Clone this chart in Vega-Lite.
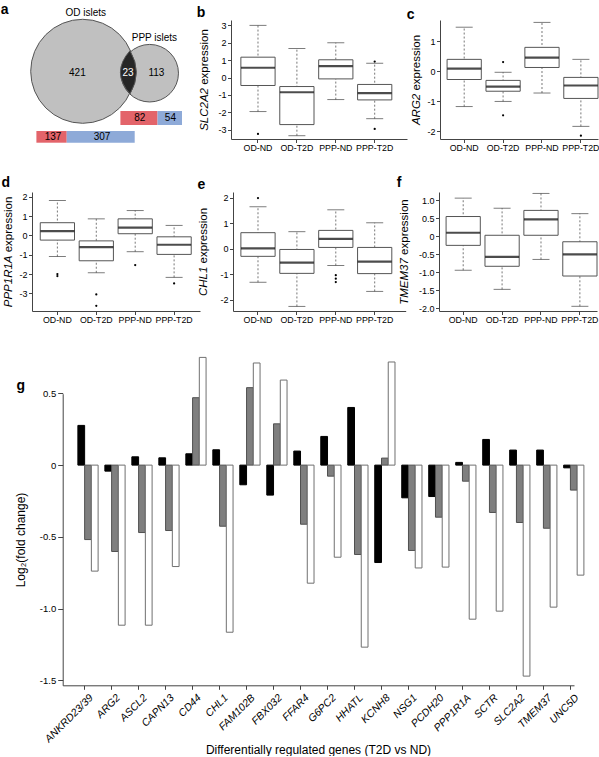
{
  "$schema": "https://vega.github.io/schema/vega-lite/v6.json",
  "background": "white",
  "padding": {"left": 0, "top": 2, "right": 0, "bottom": 0},
  "config": {
    "font": "Liberation Sans",
    "view": {"stroke": null},
    "axis": {"domainColor": "#444444", "tickColor": "#444444", "labelColor": "#000000", "titleColor": "#000000", "grid": false, "labelFont": "Liberation Sans", "titleFont": "Liberation Sans", "titleFontWeight": "normal", "labelFontSize": 9, "titleFontSize": 11.5, "tickSize": 3.5, "domainWidth": 1, "tickWidth": 1, "labelFlush": false, "labelOverlap": false, "domainCap": "butt"},
    "axisX": {"labelAngle": 0, "labelPadding": 0.5, "labelFontSize": 8.8},
    "axisY": {"labelPadding": 1.5, "minExtent": 0, "maxExtent": 0, "labelOverlap": false, "titleAlign": "right", "titleBaseline": "bottom", "titleAngle": 270, "titleFontStyle": "italic"},
    "title": {"anchor": "start", "frame": "group", "fontSize": 14, "fontWeight": "bold", "baseline": "alphabetic", "font": "Liberation Sans", "color": "#000000"}
  },
  "datasets": {
    "sets": [{"set": "OD islets", "total": 444}, {"set": "PPP islets", "total": 136}],
    "venn": [{"region": "OD islets only", "n": 421}, {"region": "Both", "n": 23}, {"region": "PPP islets only", "n": 113}],
    "direction": [
      {"set": "OD islets", "dir": "up", "n": 137}, {"set": "OD islets", "dir": "down", "n": 307},
      {"set": "PPP islets", "dir": "up", "n": 82}, {"set": "PPP islets", "dir": "down", "n": 54}
    ],
    "boxes": [
      {"gene": "SLC2A2", "group": "OD-ND", "lo": -1.96, "q1": -0.46, "med": 0.56, "q3": 1.17, "hi": 3.0},
      {"gene": "SLC2A2", "group": "OD-T2D", "lo": -3.35, "q1": -2.71, "med": -0.85, "q3": -0.52, "hi": 1.67},
      {"gene": "SLC2A2", "group": "PPP-ND", "lo": -1.27, "q1": -0.08, "med": 0.65, "q3": 1.02, "hi": 2.0},
      {"gene": "SLC2A2", "group": "PPP-T2D", "lo": -2.37, "q1": -1.29, "med": -0.9, "q3": -0.4, "hi": 0.82},
      {"gene": "ARG2", "group": "OD-ND", "lo": -1.17, "q1": -0.27, "med": 0.09, "q3": 0.4, "hi": 1.47},
      {"gene": "ARG2", "group": "OD-T2D", "lo": -1.0, "q1": -0.66, "med": -0.51, "q3": -0.3, "hi": -0.03},
      {"gene": "ARG2", "group": "PPP-ND", "lo": -0.72, "q1": 0.13, "med": 0.46, "q3": 0.8, "hi": 1.63},
      {"gene": "ARG2", "group": "PPP-T2D", "lo": -1.83, "q1": -0.9, "med": -0.47, "q3": -0.2, "hi": 0.4},
      {"gene": "PPP1R1A", "group": "OD-ND", "lo": -1.09, "q1": -0.24, "med": 0.22, "q3": 0.66, "hi": 1.81},
      {"gene": "PPP1R1A", "group": "OD-T2D", "lo": -1.93, "q1": -1.31, "med": -0.6, "q3": -0.28, "hi": 0.86},
      {"gene": "PPP1R1A", "group": "PPP-ND", "lo": -0.84, "q1": 0.09, "med": 0.41, "q3": 0.86, "hi": 1.29},
      {"gene": "PPP1R1A", "group": "PPP-T2D", "lo": -2.17, "q1": -0.98, "med": -0.48, "q3": -0.07, "hi": 0.52},
      {"gene": "CHL1", "group": "OD-ND", "lo": -1.32, "q1": -0.3, "med": 0.01, "q3": 0.63, "hi": 1.65},
      {"gene": "CHL1", "group": "OD-T2D", "lo": -2.27, "q1": -0.97, "med": -0.55, "q3": -0.03, "hi": 0.67},
      {"gene": "CHL1", "group": "PPP-ND", "lo": -0.66, "q1": 0.05, "med": 0.39, "q3": 0.72, "hi": 1.53},
      {"gene": "CHL1", "group": "PPP-T2D", "lo": -1.68, "q1": -0.98, "med": -0.51, "q3": 0.05, "hi": 1.02},
      {"gene": "TMEM37", "group": "OD-ND", "lo": -0.94, "q1": -0.25, "med": 0.1, "q3": 0.55, "hi": 1.06},
      {"gene": "TMEM37", "group": "OD-T2D", "lo": -1.47, "q1": -0.83, "med": -0.57, "q3": 0.03, "hi": 0.78},
      {"gene": "TMEM37", "group": "PPP-ND", "lo": -0.64, "q1": 0.03, "med": 0.47, "q3": 0.72, "hi": 1.19},
      {"gene": "TMEM37", "group": "PPP-T2D", "lo": -1.94, "q1": -1.1, "med": -0.5, "q3": -0.15, "hi": 0.63}
    ],
    "outliers": [
      {"gene": "SLC2A2", "group": "OD-ND", "value": -3.25},
      {"gene": "SLC2A2", "group": "PPP-T2D", "value": 0.92},
      {"gene": "SLC2A2", "group": "PPP-T2D", "value": -2.96},
      {"gene": "ARG2", "group": "OD-T2D", "value": 0.31},
      {"gene": "ARG2", "group": "OD-T2D", "value": -1.46},
      {"gene": "ARG2", "group": "PPP-T2D", "value": -2.14},
      {"gene": "PPP1R1A", "group": "OD-ND", "value": -2.0},
      {"gene": "PPP1R1A", "group": "OD-ND", "value": -2.1},
      {"gene": "PPP1R1A", "group": "OD-T2D", "value": -3.05},
      {"gene": "PPP1R1A", "group": "OD-T2D", "value": -3.64},
      {"gene": "PPP1R1A", "group": "PPP-ND", "value": -1.53},
      {"gene": "PPP1R1A", "group": "PPP-T2D", "value": -2.48},
      {"gene": "CHL1", "group": "OD-ND", "value": 1.99},
      {"gene": "CHL1", "group": "PPP-ND", "value": -1.04},
      {"gene": "CHL1", "group": "PPP-ND", "value": -1.18},
      {"gene": "CHL1", "group": "PPP-ND", "value": -1.31}
    ],
    "fold": [
      {"gene": "ANKRD23/39", "series": "Set 1", "value": 0.277}, {"gene": "ANKRD23/39", "series": "Set 2", "value": -0.519}, {"gene": "ANKRD23/39", "series": "Set 3", "value": -0.739},
      {"gene": "ARG2", "series": "Set 1", "value": -0.042}, {"gene": "ARG2", "series": "Set 2", "value": -0.602}, {"gene": "ARG2", "series": "Set 3", "value": -1.116},
      {"gene": "ASCL2", "series": "Set 1", "value": 0.058}, {"gene": "ASCL2", "series": "Set 2", "value": -0.47}, {"gene": "ASCL2", "series": "Set 3", "value": -1.116},
      {"gene": "CAPN13", "series": "Set 1", "value": 0.051}, {"gene": "CAPN13", "series": "Set 2", "value": -0.456}, {"gene": "CAPN13", "series": "Set 3", "value": -0.707},
      {"gene": "CD44", "series": "Set 1", "value": 0.079}, {"gene": "CD44", "series": "Set 2", "value": 0.47}, {"gene": "CD44", "series": "Set 3", "value": 0.751},
      {"gene": "CHL1", "series": "Set 1", "value": 0.107}, {"gene": "CHL1", "series": "Set 2", "value": -0.426}, {"gene": "CHL1", "series": "Set 3", "value": -1.165},
      {"gene": "FAM102B", "series": "Set 1", "value": -0.137}, {"gene": "FAM102B", "series": "Set 2", "value": 0.54}, {"gene": "FAM102B", "series": "Set 3", "value": 0.712},
      {"gene": "FBX032", "series": "Set 1", "value": -0.209}, {"gene": "FBX032", "series": "Set 2", "value": 0.288}, {"gene": "FBX032", "series": "Set 3", "value": 0.593},
      {"gene": "FFAR4", "series": "Set 1", "value": 0.098}, {"gene": "FFAR4", "series": "Set 2", "value": -0.412}, {"gene": "FFAR4", "series": "Set 3", "value": -0.823},
      {"gene": "G6PC2", "series": "Set 1", "value": 0.2}, {"gene": "G6PC2", "series": "Set 2", "value": -0.077}, {"gene": "G6PC2", "series": "Set 3", "value": -0.642},
      {"gene": "HHATL", "series": "Set 1", "value": 0.402}, {"gene": "HHATL", "series": "Set 2", "value": -0.623}, {"gene": "HHATL", "series": "Set 3", "value": -1.269},
      {"gene": "KCNH8", "series": "Set 1", "value": -0.679}, {"gene": "KCNH8", "series": "Set 2", "value": 0.049}, {"gene": "KCNH8", "series": "Set 3", "value": 0.719},
      {"gene": "NSG1", "series": "Set 1", "value": -0.228}, {"gene": "NSG1", "series": "Set 2", "value": -0.595}, {"gene": "NSG1", "series": "Set 3", "value": -0.717},
      {"gene": "PCDH20", "series": "Set 1", "value": -0.219}, {"gene": "PCDH20", "series": "Set 2", "value": -0.363}, {"gene": "PCDH20", "series": "Set 3", "value": -0.711},
      {"gene": "PPP1R1A", "series": "Set 1", "value": 0.019}, {"gene": "PPP1R1A", "series": "Set 2", "value": -0.112}, {"gene": "PPP1R1A", "series": "Set 3", "value": -1.074},
      {"gene": "SCTR", "series": "Set 1", "value": 0.179}, {"gene": "SCTR", "series": "Set 2", "value": -0.33}, {"gene": "SCTR", "series": "Set 3", "value": -1.018},
      {"gene": "SLC2A2", "series": "Set 1", "value": 0.105}, {"gene": "SLC2A2", "series": "Set 2", "value": -0.4}, {"gene": "SLC2A2", "series": "Set 3", "value": -1.471},
      {"gene": "TMEM37", "series": "Set 1", "value": 0.105}, {"gene": "TMEM37", "series": "Set 2", "value": -0.44}, {"gene": "TMEM37", "series": "Set 3", "value": -0.99},
      {"gene": "UNC5D", "series": "Set 1", "value": -0.019}, {"gene": "UNC5D", "series": "Set 2", "value": -0.174}, {"gene": "UNC5D", "series": "Set 3", "value": -0.767}
    ]
  },
  "bounds": "flush",
  "spacing": 172,
  "vconcat": [
    {
      "bounds": "flush",
      "spacing": 33,
      "hconcat": [
        {
          "width": 165.7, "height": 119,
          "title": {"text": "a", "dx": -31.3, "offset": -8.3},
          "resolve": {"scale": {"x": "independent", "y": "independent", "size": "independent", "color": "independent"}},
          "layer": [
            {
              "data": {"name": "sets"},
              "transform": [{"filter": "datum.set == 'OD islets'"}],
              "mark": {"type": "point", "shape": "circle", "filled": true, "fill": "#c0c0c0", "stroke": "#555555", "strokeWidth": 1, "opacity": 1},
              "encoding": {
                "x": {"datum": 50.7, "type": "quantitative", "scale": {"domain": [0, 165.7], "nice": false, "zero": false}, "axis": null},
                "y": {"datum": 51.3, "type": "quantitative", "scale": {"domain": [0, 119], "nice": false, "zero": false, "reverse": true}, "axis": null},
                "size": {"field": "total", "type": "quantitative", "scale": {"domain": [0, 444], "range": [0, 10816]}, "legend": null}
              }
            },
            {
              "data": {"name": "sets"},
              "transform": [{"filter": "datum.set == 'PPP islets'"}],
              "mark": {"type": "point", "shape": "circle", "filled": true, "fill": "#c0c0c0", "stroke": "#555555", "strokeWidth": 1, "opacity": 1},
              "encoding": {
                "x": {"datum": 117.7, "type": "quantitative", "scale": {"domain": [0, 165.7], "nice": false, "zero": false}, "axis": null},
                "y": {"datum": 53.2, "type": "quantitative", "scale": {"domain": [0, 119], "nice": false, "zero": false, "reverse": true}, "axis": null},
                "size": {"field": "total", "type": "quantitative", "scale": {"domain": [0, 444], "range": [0, 10816]}, "legend": null}
              }
            },
            {
              "data": {"name": "venn"},
              "transform": [{"filter": "datum.region == 'Both'"}],
              "mark": {"type": "point", "shape": "M0,-1Q0.592,0,0,1Q-0.888,0,0,-1Z", "filled": true, "fill": "#262626", "stroke": "#555555", "strokeWidth": 1, "size": 1866, "opacity": 1},
              "encoding": {
                "x": {"datum": 98, "type": "quantitative", "scale": {"domain": [0, 165.7], "nice": false, "zero": false}, "axis": null},
                "y": {"datum": 52.3, "type": "quantitative", "scale": {"domain": [0, 119], "nice": false, "zero": false, "reverse": true}, "axis": null}
              }
            },
            {
              "data": {"name": "sets"},
              "transform": [{"filter": "datum.set == 'OD islets'"}],
              "mark": {"type": "text", "fontSize": 10, "baseline": "middle", "color": "#000000"},
              "encoding": {
                "x": {"datum": 53.7, "type": "quantitative", "scale": {"domain": [0, 165.7], "nice": false, "zero": false}, "axis": null},
                "y": {"datum": -6.7, "type": "quantitative", "scale": {"domain": [0, 119], "nice": false, "zero": false, "reverse": true}, "axis": null},
                "text": {"field": "set"}
              }
            },
            {
              "data": {"name": "sets"},
              "transform": [{"filter": "datum.set == 'PPP islets'"}],
              "mark": {"type": "text", "fontSize": 10, "baseline": "middle", "color": "#000000"},
              "encoding": {
                "x": {"datum": 122.4, "type": "quantitative", "scale": {"domain": [0, 165.7], "nice": false, "zero": false}, "axis": null},
                "y": {"datum": 17.7, "type": "quantitative", "scale": {"domain": [0, 119], "nice": false, "zero": false, "reverse": true}, "axis": null},
                "text": {"field": "set"}
              }
            },
            {
              "data": {"name": "venn"},
              "transform": [{"filter": "datum.region == 'OD islets only'"}],
              "mark": {"type": "text", "fontSize": 10, "baseline": "middle", "color": "#000000"},
              "encoding": {
                "x": {"datum": 45.4, "type": "quantitative", "scale": {"domain": [0, 165.7], "nice": false, "zero": false}, "axis": null},
                "y": {"datum": 52.7, "type": "quantitative", "scale": {"domain": [0, 119], "nice": false, "zero": false, "reverse": true}, "axis": null},
                "text": {"field": "n"}
              }
            },
            {
              "data": {"name": "venn"},
              "transform": [{"filter": "datum.region == 'Both'"}],
              "mark": {"type": "text", "fontSize": 10, "baseline": "middle", "color": "#ffffff"},
              "encoding": {
                "x": {"datum": 96, "type": "quantitative", "scale": {"domain": [0, 165.7], "nice": false, "zero": false}, "axis": null},
                "y": {"datum": 52.7, "type": "quantitative", "scale": {"domain": [0, 119], "nice": false, "zero": false, "reverse": true}, "axis": null},
                "text": {"field": "n"}
              }
            },
            {
              "data": {"name": "venn"},
              "transform": [{"filter": "datum.region == 'PPP islets only'"}],
              "mark": {"type": "text", "fontSize": 10, "baseline": "middle", "color": "#000000"},
              "encoding": {
                "x": {"datum": 124.4, "type": "quantitative", "scale": {"domain": [0, 165.7], "nice": false, "zero": false}, "axis": null},
                "y": {"datum": 52.7, "type": "quantitative", "scale": {"domain": [0, 119], "nice": false, "zero": false, "reverse": true}, "axis": null},
                "text": {"field": "n"}
              }
            },
            {
              "data": {"name": "direction"},
              "transform": [
                {"filter": "datum.set == 'OD islets'"},
                {"stack": "n", "groupby": ["set"], "sort": [{"field": "dir", "order": "descending"}], "as": ["n0", "n1"]}
              ],
              "mark": {"type": "rect"},
              "encoding": {
                "x": {"field": "n0", "type": "quantitative", "scale": {"domain": [0, 444], "range": [4.4, 102.7], "nice": false, "zero": false}, "axis": null},
                "x2": {"field": "n1"},
                "y": {"datum": 111, "type": "quantitative", "scale": {"domain": [0, 119], "nice": false, "zero": false, "reverse": true}, "axis": null},
                "y2": {"datum": 122.7},
                "color": {"field": "dir", "type": "nominal", "scale": {"domain": ["up", "down"], "range": ["#e3646a", "#8eaad8"]}, "legend": null}
              }
            },
            {
              "data": {"name": "direction"},
              "transform": [
                {"filter": "datum.set == 'PPP islets'"},
                {"stack": "n", "groupby": ["set"], "sort": [{"field": "dir", "order": "descending"}], "as": ["n0", "n1"]}
              ],
              "mark": {"type": "rect"},
              "encoding": {
                "x": {"field": "n0", "type": "quantitative", "scale": {"domain": [0, 136], "range": [88.4, 150], "nice": false, "zero": false}, "axis": null},
                "x2": {"field": "n1"},
                "y": {"datum": 91, "type": "quantitative", "scale": {"domain": [0, 119], "nice": false, "zero": false, "reverse": true}, "axis": null},
                "y2": {"datum": 105},
                "color": {"field": "dir", "type": "nominal", "scale": {"domain": ["up", "down"], "range": ["#e3646a", "#8eaad8"]}, "legend": null}
              }
            },
            {
              "data": {"name": "direction"},
              "transform": [{"filter": "datum.set == 'OD islets' && datum.dir == 'up'"}],
              "mark": {"type": "text", "fontSize": 10, "baseline": "middle", "color": "#000000"},
              "encoding": {
                "x": {"datum": 21, "type": "quantitative", "scale": {"domain": [0, 165.7], "nice": false, "zero": false}, "axis": null},
                "y": {"datum": 116.7, "type": "quantitative", "scale": {"domain": [0, 119], "nice": false, "zero": false, "reverse": true}, "axis": null},
                "text": {"field": "n"}
              }
            },
            {
              "data": {"name": "direction"},
              "transform": [{"filter": "datum.set == 'OD islets' && datum.dir == 'down'"}],
              "mark": {"type": "text", "fontSize": 10, "baseline": "middle", "color": "#000000"},
              "encoding": {
                "x": {"datum": 70, "type": "quantitative", "scale": {"domain": [0, 165.7], "nice": false, "zero": false}, "axis": null},
                "y": {"datum": 116.7, "type": "quantitative", "scale": {"domain": [0, 119], "nice": false, "zero": false, "reverse": true}, "axis": null},
                "text": {"field": "n"}
              }
            },
            {
              "data": {"name": "direction"},
              "transform": [{"filter": "datum.set == 'PPP islets' && datum.dir == 'up'"}],
              "mark": {"type": "text", "fontSize": 10, "baseline": "middle", "color": "#000000"},
              "encoding": {
                "x": {"datum": 107.7, "type": "quantitative", "scale": {"domain": [0, 165.7], "nice": false, "zero": false}, "axis": null},
                "y": {"datum": 98.3, "type": "quantitative", "scale": {"domain": [0, 119], "nice": false, "zero": false, "reverse": true}, "axis": null},
                "text": {"field": "n"}
              }
            },
            {
              "data": {"name": "direction"},
              "transform": [{"filter": "datum.set == 'PPP islets' && datum.dir == 'down'"}],
              "mark": {"type": "text", "fontSize": 10, "baseline": "middle", "color": "#000000"},
              "encoding": {
                "x": {"datum": 138.4, "type": "quantitative", "scale": {"domain": [0, 165.7], "nice": false, "zero": false}, "axis": null},
                "y": {"datum": 98.3, "type": "quantitative", "scale": {"domain": [0, 119], "nice": false, "zero": false, "reverse": true}, "axis": null},
                "text": {"field": "n"}
              }
            }
          ]
        },
        {
          "width": 176, "height": 119,
          "title": {"text": "b", "dx": -34.3, "offset": 0},
          "encoding": {"x": {"field": "group", "type": "nominal", "title": "expression", "scale": {"domain": ["OD-ND", "OD-T2D", "PPP-ND", "PPP-T2D"], "paddingInner": 0.12, "paddingOuter": 0.322, "align": 0.394}, "axis": {"labelOverlap": false, "titleAngle": 270, "titleAlign": "left", "titleBaseline": "bottom", "titleX": -22, "titleY": -54.7}}},
          "layer": [
            {
              "data": {"name": "boxes"},
              "transform": [{"filter": "datum.gene == 'SLC2A2'"}],
              "layer": [
                {"mark": {"type": "rule", "strokeDash": [2, 2], "color": "#777777"}, "encoding": {"y": {"field": "lo", "type": "quantitative", "title": "SLC2A2", "scale": {"domain": [-3.54, 3.31], "nice": false, "zero": false}, "axis": {"values": [-3, -2, -1, 0, 1, 2, 3], "labelOverlap": false, "titleX": -22, "titleY": 67.5, "labelExpr": "replace(datum.label, '\u2212', '-')"}}, "y2": {"field": "hi"}}},
                {"mark": {"type": "bar", "fill": "#ffffff", "stroke": "#555555", "strokeWidth": 1}, "encoding": {"y": {"field": "q1", "type": "quantitative", "title": "SLC2A2", "axis": {"values": [-3, -2, -1, 0, 1, 2, 3], "labelOverlap": false, "titleX": -22, "titleY": 67.5, "labelExpr": "replace(datum.label, '\u2212', '-')"}}, "y2": {"field": "q3"}}},
                {"mark": {"type": "tick", "size": 17, "thickness": 1, "color": "#444444"}, "encoding": {"y": {"field": "lo", "type": "quantitative", "title": "SLC2A2", "axis": {"values": [-3, -2, -1, 0, 1, 2, 3], "labelOverlap": false, "titleX": -22, "titleY": 67.5, "labelExpr": "replace(datum.label, '\u2212', '-')"}}}},
                {"mark": {"type": "tick", "size": 17, "thickness": 1, "color": "#444444"}, "encoding": {"y": {"field": "hi", "type": "quantitative", "title": "SLC2A2", "axis": {"values": [-3, -2, -1, 0, 1, 2, 3], "labelOverlap": false, "titleX": -22, "titleY": 67.5, "labelExpr": "replace(datum.label, '\u2212', '-')"}}}},
                {"mark": {"type": "tick", "size": 34, "thickness": 2.2, "color": "#000000"}, "encoding": {"y": {"field": "med", "type": "quantitative", "title": "SLC2A2", "axis": {"values": [-3, -2, -1, 0, 1, 2, 3], "labelOverlap": false, "titleX": -22, "titleY": 67.5, "labelExpr": "replace(datum.label, '\u2212', '-')"}}}}
              ]
            },
            {
              "data": {"name": "outliers"},
              "transform": [{"filter": "datum.gene == 'SLC2A2'"}],
              "mark": {"type": "point", "filled": true, "color": "#000000", "size": 5, "opacity": 1},
              "encoding": {"y": {"field": "value", "type": "quantitative", "title": "SLC2A2", "axis": {"values": [-3, -2, -1, 0, 1, 2, 3], "labelOverlap": false, "titleX": -22, "titleY": 67.5, "labelExpr": "replace(datum.label, '\u2212', '-')"}}}
            }
          ]
        },
        {
          "width": 158, "height": 119,
          "title": {"text": "c", "dx": -33.3, "offset": -1.7},
          "encoding": {"x": {"field": "group", "type": "nominal", "title": "expression", "scale": {"domain": ["OD-ND", "OD-T2D", "PPP-ND", "PPP-T2D"], "paddingInner": 0.12, "paddingOuter": 0.091, "align": 1}, "axis": {"labelOverlap": false, "titleAngle": 270, "titleAlign": "left", "titleBaseline": "bottom", "titleX": -18.5, "titleY": -48.95}}},
          "layer": [
            {
              "data": {"name": "boxes"},
              "transform": [{"filter": "datum.gene == 'ARG2'"}],
              "layer": [
                {"mark": {"type": "rule", "strokeDash": [2, 2], "color": "#777777"}, "encoding": {"y": {"field": "lo", "type": "quantitative", "title": "ARG2", "scale": {"domain": [-2.25, 1.71], "nice": false, "zero": false}, "axis": {"values": [-2, -1, 0, 1], "labelOverlap": false, "titleX": -18.5, "titleY": 73.25, "labelExpr": "replace(datum.label, '\u2212', '-')"}}, "y2": {"field": "hi"}}},
                {"mark": {"type": "bar", "fill": "#ffffff", "stroke": "#555555", "strokeWidth": 1}, "encoding": {"y": {"field": "q1", "type": "quantitative", "title": "ARG2", "axis": {"values": [-2, -1, 0, 1], "labelOverlap": false, "titleX": -18.5, "titleY": 73.25, "labelExpr": "replace(datum.label, '\u2212', '-')"}}, "y2": {"field": "q3"}}},
                {"mark": {"type": "tick", "size": 17, "thickness": 1, "color": "#444444"}, "encoding": {"y": {"field": "lo", "type": "quantitative", "title": "ARG2", "axis": {"values": [-2, -1, 0, 1], "labelOverlap": false, "titleX": -18.5, "titleY": 73.25, "labelExpr": "replace(datum.label, '\u2212', '-')"}}}},
                {"mark": {"type": "tick", "size": 17, "thickness": 1, "color": "#444444"}, "encoding": {"y": {"field": "hi", "type": "quantitative", "title": "ARG2", "axis": {"values": [-2, -1, 0, 1], "labelOverlap": false, "titleX": -18.5, "titleY": 73.25, "labelExpr": "replace(datum.label, '\u2212', '-')"}}}},
                {"mark": {"type": "tick", "size": 34, "thickness": 2.2, "color": "#000000"}, "encoding": {"y": {"field": "med", "type": "quantitative", "title": "ARG2", "axis": {"values": [-2, -1, 0, 1], "labelOverlap": false, "titleX": -18.5, "titleY": 73.25, "labelExpr": "replace(datum.label, '\u2212', '-')"}}}}
              ]
            },
            {
              "data": {"name": "outliers"},
              "transform": [{"filter": "datum.gene == 'ARG2'"}],
              "mark": {"type": "point", "filled": true, "color": "#000000", "size": 5, "opacity": 1},
              "encoding": {"y": {"field": "value", "type": "quantitative", "title": "ARG2", "axis": {"values": [-2, -1, 0, 1], "labelOverlap": false, "titleX": -18.5, "titleY": 73.25, "labelExpr": "replace(datum.label, '\u2212', '-')"}}}
            }
          ]
        }
      ]
    },
    {
      "bounds": "flush",
      "spacing": 33,
      "hconcat": [
        {
          "width": 168, "height": 119,
          "title": {"text": "d", "dx": -30.6, "offset": 2},
          "encoding": {"x": {"field": "group", "type": "nominal", "title": "expression", "scale": {"domain": ["OD-ND", "OD-T2D", "PPP-ND", "PPP-T2D"], "paddingInner": 0.12, "paddingOuter": 0.219, "align": 0.485}, "axis": {"labelOverlap": false, "titleAngle": 270, "titleAlign": "left", "titleBaseline": "bottom", "titleX": -18.5, "titleY": -59.2}}},
          "layer": [
            {
              "data": {"name": "boxes"},
              "transform": [{"filter": "datum.gene == 'PPP1R1A'"}],
              "layer": [
                {"mark": {"type": "rule", "strokeDash": [2, 2], "color": "#777777"}, "encoding": {"y": {"field": "lo", "type": "quantitative", "title": "PPP1R1A", "scale": {"domain": [-3.91, 2.25], "nice": false, "zero": false}, "axis": {"values": [-3, -2, -1, 0, 1, 2], "labelOverlap": false, "titleX": -18.5, "titleY": 63, "labelExpr": "replace(datum.label, '\u2212', '-')"}}, "y2": {"field": "hi"}}},
                {"mark": {"type": "bar", "fill": "#ffffff", "stroke": "#555555", "strokeWidth": 1}, "encoding": {"y": {"field": "q1", "type": "quantitative", "title": "PPP1R1A", "axis": {"values": [-3, -2, -1, 0, 1, 2], "labelOverlap": false, "titleX": -18.5, "titleY": 63, "labelExpr": "replace(datum.label, '\u2212', '-')"}}, "y2": {"field": "q3"}}},
                {"mark": {"type": "tick", "size": 17, "thickness": 1, "color": "#444444"}, "encoding": {"y": {"field": "lo", "type": "quantitative", "title": "PPP1R1A", "axis": {"values": [-3, -2, -1, 0, 1, 2], "labelOverlap": false, "titleX": -18.5, "titleY": 63, "labelExpr": "replace(datum.label, '\u2212', '-')"}}}},
                {"mark": {"type": "tick", "size": 17, "thickness": 1, "color": "#444444"}, "encoding": {"y": {"field": "hi", "type": "quantitative", "title": "PPP1R1A", "axis": {"values": [-3, -2, -1, 0, 1, 2], "labelOverlap": false, "titleX": -18.5, "titleY": 63, "labelExpr": "replace(datum.label, '\u2212', '-')"}}}},
                {"mark": {"type": "tick", "size": 34, "thickness": 2.2, "color": "#000000"}, "encoding": {"y": {"field": "med", "type": "quantitative", "title": "PPP1R1A", "axis": {"values": [-3, -2, -1, 0, 1, 2], "labelOverlap": false, "titleX": -18.5, "titleY": 63, "labelExpr": "replace(datum.label, '\u2212', '-')"}}}}
              ]
            },
            {
              "data": {"name": "outliers"},
              "transform": [{"filter": "datum.gene == 'PPP1R1A'"}],
              "mark": {"type": "point", "filled": true, "color": "#000000", "size": 5, "opacity": 1},
              "encoding": {"y": {"field": "value", "type": "quantitative", "title": "PPP1R1A", "axis": {"values": [-3, -2, -1, 0, 1, 2], "labelOverlap": false, "titleX": -18.5, "titleY": 63, "labelExpr": "replace(datum.label, '\u2212', '-')"}}}
            }
          ]
        },
        {
          "width": 172.7, "height": 119,
          "title": {"text": "e", "dx": -35.6, "offset": 0.3},
          "encoding": {"x": {"field": "group", "type": "nominal", "title": "expression", "scale": {"domain": ["OD-ND", "OD-T2D", "PPP-ND", "PPP-T2D"], "paddingInner": 0.12, "paddingOuter": 0.28, "align": 0.362}, "axis": {"labelOverlap": false, "titleAngle": 270, "titleAlign": "left", "titleBaseline": "bottom", "titleX": -24.5, "titleY": -48}}},
          "layer": [
            {
              "data": {"name": "boxes"},
              "transform": [{"filter": "datum.gene == 'CHL1'"}],
              "layer": [
                {"mark": {"type": "rule", "strokeDash": [2, 2], "color": "#777777"}, "encoding": {"y": {"field": "lo", "type": "quantitative", "title": "CHL1", "scale": {"domain": [-2.45, 2.23], "nice": false, "zero": false}, "axis": {"values": [-2, -1, 0, 1, 2], "labelOverlap": false, "titleX": -24.5, "titleY": 74.2, "labelExpr": "replace(datum.label, '\u2212', '-')"}}, "y2": {"field": "hi"}}},
                {"mark": {"type": "bar", "fill": "#ffffff", "stroke": "#555555", "strokeWidth": 1}, "encoding": {"y": {"field": "q1", "type": "quantitative", "title": "CHL1", "axis": {"values": [-2, -1, 0, 1, 2], "labelOverlap": false, "titleX": -24.5, "titleY": 74.2, "labelExpr": "replace(datum.label, '\u2212', '-')"}}, "y2": {"field": "q3"}}},
                {"mark": {"type": "tick", "size": 17, "thickness": 1, "color": "#444444"}, "encoding": {"y": {"field": "lo", "type": "quantitative", "title": "CHL1", "axis": {"values": [-2, -1, 0, 1, 2], "labelOverlap": false, "titleX": -24.5, "titleY": 74.2, "labelExpr": "replace(datum.label, '\u2212', '-')"}}}},
                {"mark": {"type": "tick", "size": 17, "thickness": 1, "color": "#444444"}, "encoding": {"y": {"field": "hi", "type": "quantitative", "title": "CHL1", "axis": {"values": [-2, -1, 0, 1, 2], "labelOverlap": false, "titleX": -24.5, "titleY": 74.2, "labelExpr": "replace(datum.label, '\u2212', '-')"}}}},
                {"mark": {"type": "tick", "size": 34, "thickness": 2.2, "color": "#000000"}, "encoding": {"y": {"field": "med", "type": "quantitative", "title": "CHL1", "axis": {"values": [-2, -1, 0, 1, 2], "labelOverlap": false, "titleX": -24.5, "titleY": 74.2, "labelExpr": "replace(datum.label, '\u2212', '-')"}}}}
              ]
            },
            {
              "data": {"name": "outliers"},
              "transform": [{"filter": "datum.gene == 'CHL1'"}],
              "mark": {"type": "point", "filled": true, "color": "#000000", "size": 5, "opacity": 1},
              "encoding": {"y": {"field": "value", "type": "quantitative", "title": "CHL1", "axis": {"values": [-2, -1, 0, 1, 2], "labelOverlap": false, "titleX": -24.5, "titleY": 74.2, "labelExpr": "replace(datum.label, '\u2212', '-')"}}}
            }
          ]
        },
        {
          "width": 158, "height": 119,
          "title": {"text": "f", "dx": -42.3, "offset": 2},
          "encoding": {"x": {"field": "group", "type": "nominal", "title": "expression", "scale": {"domain": ["OD-ND", "OD-T2D", "PPP-ND", "PPP-T2D"], "paddingInner": 0.12, "paddingOuter": 0.091, "align": 1}, "axis": {"labelOverlap": false, "titleAngle": 270, "titleAlign": "left", "titleBaseline": "bottom", "titleX": -29.5, "titleY": -56.6}}},
          "data": {"name": "boxes"},
          "transform": [{"filter": "datum.gene == 'TMEM37'"}],
          "layer": [
            {"mark": {"type": "rule", "strokeDash": [2, 2], "color": "#777777"}, "encoding": {"y": {"field": "lo", "type": "quantitative", "title": "TMEM37", "scale": {"domain": [-2.07, 1.23], "nice": false, "zero": false}, "axis": {"values": [-2, -1.5, -1, -0.5, 0, 0.5, 1], "labelOverlap": false, "titleX": -29.5, "titleY": 65.6, "labelExpr": "datum.value == 0 ? '0' : replace(format(datum.value, '.1f'), '\u2212', '-')"}}, "y2": {"field": "hi"}}},
            {"mark": {"type": "bar", "fill": "#ffffff", "stroke": "#555555", "strokeWidth": 1}, "encoding": {"y": {"field": "q1", "type": "quantitative", "title": "TMEM37", "axis": {"values": [-2, -1.5, -1, -0.5, 0, 0.5, 1], "labelOverlap": false, "titleX": -29.5, "titleY": 65.6, "labelExpr": "datum.value == 0 ? '0' : replace(format(datum.value, '.1f'), '\u2212', '-')"}}, "y2": {"field": "q3"}}},
            {"mark": {"type": "tick", "size": 17, "thickness": 1, "color": "#444444"}, "encoding": {"y": {"field": "lo", "type": "quantitative", "title": "TMEM37", "axis": {"values": [-2, -1.5, -1, -0.5, 0, 0.5, 1], "labelOverlap": false, "titleX": -29.5, "titleY": 65.6, "labelExpr": "datum.value == 0 ? '0' : replace(format(datum.value, '.1f'), '\u2212', '-')"}}}},
            {"mark": {"type": "tick", "size": 17, "thickness": 1, "color": "#444444"}, "encoding": {"y": {"field": "hi", "type": "quantitative", "title": "TMEM37", "axis": {"values": [-2, -1.5, -1, -0.5, 0, 0.5, 1], "labelOverlap": false, "titleX": -29.5, "titleY": 65.6, "labelExpr": "datum.value == 0 ? '0' : replace(format(datum.value, '.1f'), '\u2212', '-')"}}}},
            {"mark": {"type": "tick", "size": 34, "thickness": 2.2, "color": "#000000"}, "encoding": {"y": {"field": "med", "type": "quantitative", "title": "TMEM37", "axis": {"values": [-2, -1.5, -1, -0.5, 0, 0.5, 1], "labelOverlap": false, "titleX": -29.5, "titleY": 65.6, "labelExpr": "datum.value == 0 ? '0' : replace(format(datum.value, '.1f'), '\u2212', '-')"}}}}
          ]
        }
      ]
    },
    {
      "width": 560, "height": 321.3,
      "title": {"text": "g", "dx": -15.6, "offset": -36},
      "data": {"name": "fold"},
      "mark": {"type": "bar", "strokeWidth": 1},
      "encoding": {
        "x": {"field": "gene", "type": "nominal", "sort": null,
          "scale": {"domain": ["ANKRD23/39", "ARG2", "ASCL2", "CAPN13", "CD44", "CHL1", "FAM102B", "FBX032", "FFAR4", "G6PC2", "HHATL", "KCNH8", "NSG1", "PCDH20", "PPP1R1A", "SCTR", "SLC2A2", "TMEM37", "UNC5D"], "paddingInner": 0.25, "paddingOuter": 1.125, "align": 0.85},
          "axis": {"title": "Differentially regulated genes (T2D vs ND)", "labelAngle": -45, "labelFontStyle": "italic", "labelFontSize": 10.5, "labelOverlap": false, "tickSize": 4, "labelPadding": 3, "bandPosition": 0.35, "domainDash": [0, 30.7, 511.3, 2000], "titleFontSize": 12, "titleX": 286, "titleY": 64, "titleBaseline": "middle"}},
        "xOffset": {"field": "series", "type": "nominal", "scale": {"domain": ["Set 1", "Set 2", "Set 3"], "paddingInner": 0, "paddingOuter": 0}},
        "y": {"field": "value", "type": "quantitative", "stack": null,
          "scale": {"domain": [-1.535, 0.705], "nice": false, "zero": false},
          "axis": {"title": "Log₂(fold change)", "values": [-1.5, -1, -0.5, 0, 0.5], "labelOverlap": false, "labelExpr": "datum.value == 0 ? '0' : replace(format(datum.value, '.1f'), '\u2212', '-')", "offset": -30.7, "tickSize": 5, "labelPadding": 2, "labelFontSize": 9.5, "titleFontSize": 12, "titleFontStyle": "normal", "titleAlign": "center", "titlePadding": 35.5, "titleY": 175.5, "domainDash": [291.6, 2000]}},
        "y2": {"datum": 0},
        "fill": {"field": "series", "type": "nominal", "scale": {"domain": ["Set 1", "Set 2", "Set 3"], "range": ["#000000", "#7f7f7f", "#ffffff"]}, "legend": null},
        "stroke": {"field": "series", "type": "nominal", "scale": {"domain": ["Set 1", "Set 2", "Set 3"], "range": ["#000000", "#505050", "#707070"]}, "legend": null}
      }
    }
  ]
}
